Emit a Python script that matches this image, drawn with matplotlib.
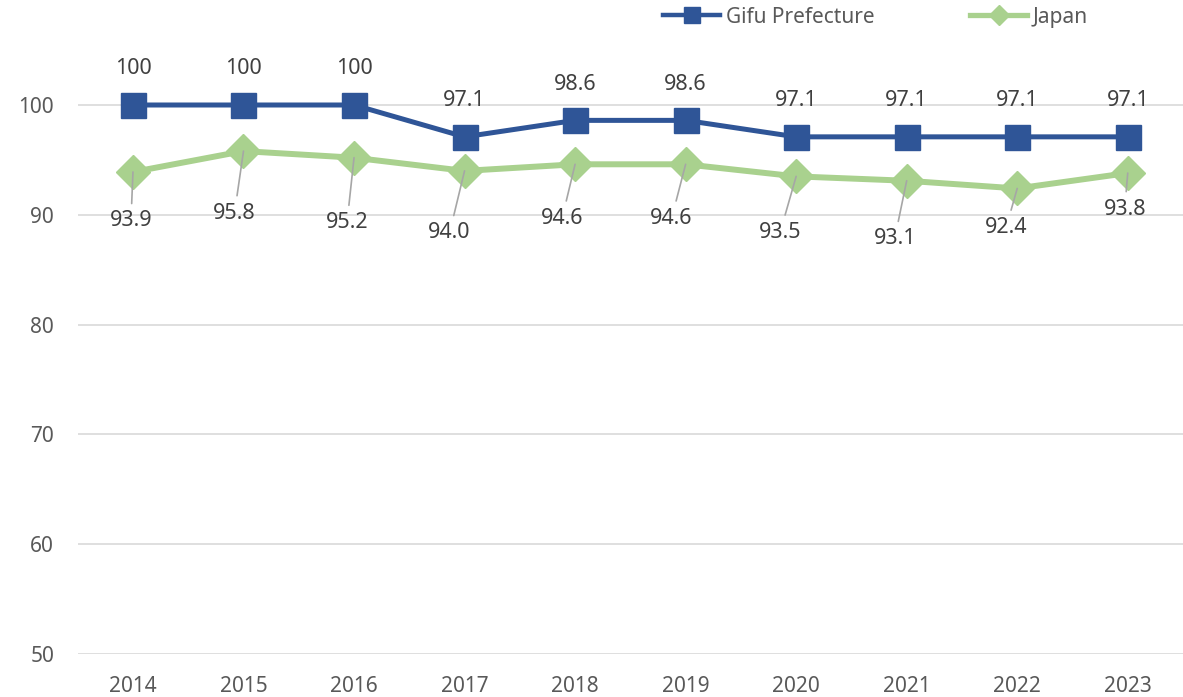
import matplotlib
matplotlib.use('Agg')
import matplotlib.pyplot as plt
from matplotlib.lines import Line2D

years = ['2014', '2015', '2016', '2017', '2018', '2019', '2020', '2021', '2022', '2023']
gifu = [100, 100, 100, 97.1, 98.6, 98.6, 97.1, 97.1, 97.1, 97.1]
japan = [93.9, 95.8, 95.2, 94.0, 94.6, 94.6, 93.5, 93.1, 92.4, 93.8]
gifu_labels = ['100', '100', '100', '97.1', '98.6', '98.6', '97.1', '97.1', '97.1', '97.1']
japan_labels = ['93.9', '95.8', '95.2', '94.0', '94.6', '94.6', '93.5', '93.1', '92.4', '93.8']
# label offsets for the Japan data labels (pixels, right / down)
japan_off = [(-2, 49), (-9, 62), (-7, 65), (-15, 62), (-13, 54),
             (-14, 54), (-16, 56), (-12, 58), (-11, 39), (-3, 36)]

blue = '#2F5597'
green = '#A9D18E'
txt = '#404040'
plt.rcParams['font.family'] = ['Noto Sans', 'DejaVu Sans']

fig = plt.figure(figsize=(11.83, 6.97), dpi=100)
ax = fig.add_axes([77.7 / 1183, 43 / 697, 1 - 77.7 / 1183, 654 / 697])

x = list(range(len(years)))
ax.plot(x, gifu, color=blue, lw=3.6, marker='s', ms=18, zorder=4)
ax.plot(x, japan, color=green, lw=4.3, marker='D', ms=17, zorder=3)

for i, v in enumerate(gifu):
    ax.annotate(gifu_labels[i], (i, v), xytext=(0, 36), textcoords='offset pixels',
                ha='center', va='center', fontsize=15.5, color=txt)
for i, v in enumerate(japan):
    dx, dy = japan_off[i]
    ax.annotate(japan_labels[i], (i, v), xytext=(dx, -dy), textcoords='offset pixels',
                ha='center', va='center', fontsize=15.5, color=txt, zorder=5,
                arrowprops=dict(arrowstyle='-', color='#A6A6A6', lw=1.2,
                                shrinkA=3, shrinkB=0))

ax.set_xlim(-0.5, len(years) - 0.5)
ax.set_ylim(50, 50 + 654 / 10.98)
ax.set_yticks([50, 60, 70, 80, 90, 100])
ax.set_xticks(x)
ax.set_xticklabels(years)
ax.grid(axis='y', color='#D9D9D9', lw=1.2)
ax.set_axisbelow(True)
for s in ax.spines.values():
    s.set_visible(False)
ax.tick_params(length=0, labelsize=15, colors='#595959')
ax.tick_params(axis='x', pad=16)
ax.tick_params(axis='y', pad=17)

handles = [Line2D([], [], color=blue, lw=3.2, marker='s', ms=11),
           Line2D([], [], color=green, lw=3.8, marker='D', ms=10)]
fig.legend(handles, ['Gifu Prefecture', 'Japan'], loc='center', bbox_to_anchor=(0.740, 0.9756),
           ncol=2, frameon=False, fontsize=15, handlelength=2.74, handletextpad=0.25,
           columnspacing=4.6, labelcolor='#595959', borderpad=0, borderaxespad=0)

fig.savefig('out.png', dpi=100)
